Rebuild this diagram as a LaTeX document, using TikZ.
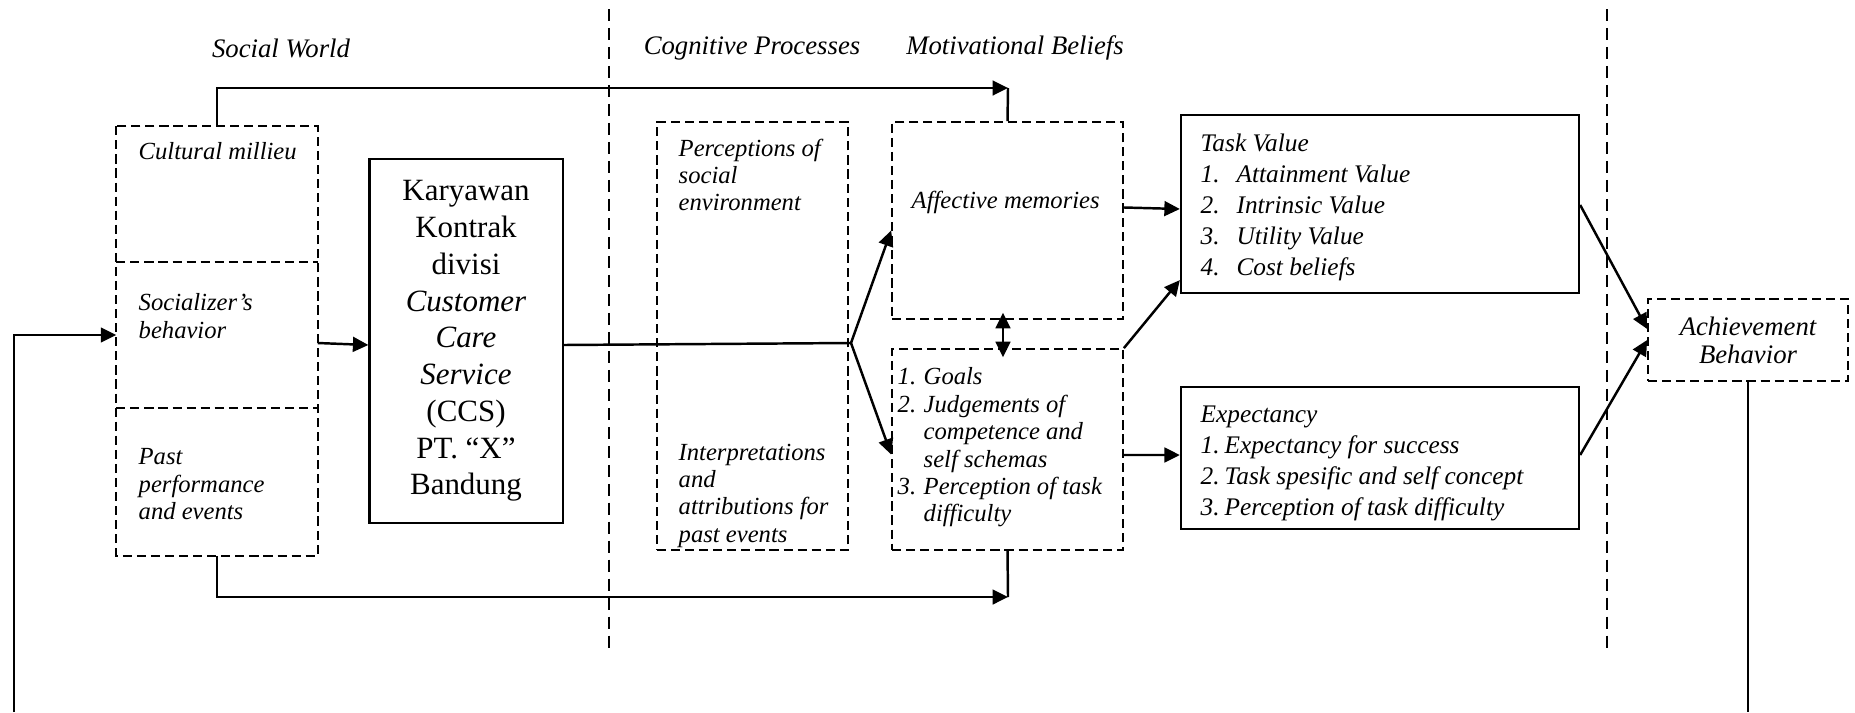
\documentclass[tikz,border=0pt]{standalone}
\usepackage{fontspec}
\setmainfont{Liberation Serif}
\usetikzlibrary{arrows.meta}

\begin{document}
\begin{tikzpicture}[x=0.01cm, y=-0.01cm,
    dashbox/.style={draw, line width=0.45pt, dash pattern=on 2.6pt off 1.4pt, inner sep=0pt},
    solidbox/.style={draw, line width=0.6pt, inner sep=0pt},
    boxtext/.style={anchor=north west, inner sep=0pt, align=left, font=\fontsize{7}{7.8}\selectfont\itshape},
    listtext/.style={boxtext, font=\fontsize{7.2}{8.8}\selectfont\itshape},
    zone/.style={inner sep=0pt, font=\fontsize{7.6}{9}\selectfont\itshape},
    wire/.style={line width=0.7pt},
    flow/.style={wire, -{Triangle[length=4.4pt, width=4.2pt]}},
    biflow/.style={wire, {Triangle[length=4.4pt, width=4.2pt]}-{Triangle[length=4.4pt, width=4.2pt]}},
    divider/.style={line width=0.7pt, dash pattern=on 3.4pt off 2pt}]
    \useasboundingbox (0,0) rectangle (1855,712);

    % Section dividers and headings
    \draw[divider] (609,9) -- (609,653);
    \draw[divider] (1607,9) -- (1607,653);
    \node[zone] (social) at (281,48) {Social World};
    \node[zone] (cognitive) at (752,48) {Cognitive Processes};
    \node[zone] (motivational) at (1015,48) {Motivational Beliefs};

    % Social world
    \node[minimum width=2cm, minimum height=1.36cm] (cult) at (217,195) {};
    \node[minimum width=2cm, minimum height=1.44cm] (soc) at (217,335) {};
    \node[minimum width=2cm, minimum height=1.48cm] (past) at (217,481) {};
    \draw[dashbox] (cult.north west) rectangle (past.south east);
    \draw[dashbox] (soc.north west) -- (soc.north east);
    \draw[dashbox] (soc.south west) -- (soc.south east);
    \node[boxtext] (cultT) at (138,142) {Cultural millieu};
    \node[boxtext] (socT) at (138,293) {Socializer’s\\behavior};
    \node[boxtext] (pastT) at (138,448) {Past\\performance\\and events};
    \node[solidbox, minimum width=1.93cm, minimum height=3.64cm, align=center,
          font=\fontsize{8.8}{10.45}\selectfont] (kary) at (466,341)
        {Karyawan\\Kontrak\\divisi\\\textit{Customer}\\\textit{Care}\\\textit{Service}\\(CCS)\\PT. “X”\\Bandung};

    % Cognitive processes
    \node[dashbox, minimum width=1.91cm, minimum height=4.28cm] (cog) at (752.5,336) {};
    \node[boxtext] (percT) at (678,138) {Perceptions of\\social\\environment};
    \node[boxtext] (interT) at (678,443) {Interpretations\\and\\attributions for\\past events};

    % Motivational beliefs
    \node[dashbox, minimum width=2.31cm, minimum height=1.97cm] (aff) at (1007.5,220.5) {};
    \node[dashbox, minimum width=2.31cm, minimum height=2.01cm] (goals) at (1007.5,449.5) {};
    \node[boxtext] (affT) at (911,190) {Affective memories};
    \node[boxtext] (goalsT) at (897,367) {\makebox[7.4pt][l]{1.}Goals\\
        \makebox[7.4pt][l]{2.}Judgements of\\\makebox[7.4pt]{}competence and\\
        \makebox[7.4pt]{}self schemas\\\makebox[7.4pt][l]{3.}Perception of task\\
        \makebox[7.4pt]{}difficulty};
    \node[solidbox, minimum width=3.98cm, minimum height=1.78cm] (task) at (1380,204) {};
    \node[solidbox, minimum width=3.98cm, minimum height=1.42cm] (expect) at (1380,458) {};
    \node[listtext] (taskT) at (1200,133) {Task Value\\
        \makebox[10.2pt][l]{1.}Attainment Value\\\makebox[10.2pt][l]{2.}Intrinsic Value\\
        \makebox[10.2pt][l]{3.}Utility Value\\\makebox[10.2pt][l]{4.}Cost beliefs};
    \node[listtext] (expT) at (1200,405) {Expectancy\\
        \makebox[6.8pt][l]{1.}Expectancy for success\\
        \makebox[6.8pt][l]{2.}Task spesific and self concept\\
        \makebox[6.8pt][l]{3.}Perception of task difficulty};

    % Achievement behavior
    \node[dashbox, minimum width=2cm, minimum height=0.82cm, align=center,
          font=\fontsize{7.6}{8}\selectfont\itshape] (ach) at (1748,340) {Achievement\\Behavior};

    % Connectors
    \coordinate (feedL) at (14,712);
    \coordinate (feedR) at (1748,712);
    \coordinate (topturn) at (1008,88);
    \coordinate (botturn) at (1008,597);
    \coordinate (split) at (851,343);
    \draw[flow] (feedL) |- (soc.west);
    \draw[wire] (ach.south) -- (feedR);
    \draw[flow] (cult.north) |- (topturn);
    \draw[wire] (aff.north) -- (topturn);
    \draw[flow] (past.south) |- (botturn);
    \draw[wire] (goals.south) -- (botturn);
    \draw[flow] ([yshift=-0.08cm]soc.east) -- ([yshift=-0.04cm]kary.west);
    \draw[wire] ([yshift=-0.04cm]kary.east) -- (split);
    \draw[flow] (split) -- ([yshift=-0.1cm]aff.west);
    \draw[flow] (split) -- ([yshift=-0.05cm]goals.west);
    \draw[biflow, shorten <=-0.07cm, shorten >=-0.09cm] ([xshift=-0.045cm]aff.south) -- ([xshift=-0.045cm]goals.north);
    \draw[flow] ([yshift=0.13cm]aff.east) -- ([yshift=-0.05cm]task.west);
    \draw[flow] (goals.north east) -- ([yshift=0.14cm]task.south west);
    \draw[flow] ([yshift=-0.055cm]goals.east) -- ([yshift=0.03cm]expect.west);
    \draw[flow] ([yshift=-0.01cm]task.east) -- ([yshift=0.11cm]ach.west);
    \draw[flow] ([yshift=0.03cm]expect.east) -- (ach.west);
\end{tikzpicture}
\end{document}
